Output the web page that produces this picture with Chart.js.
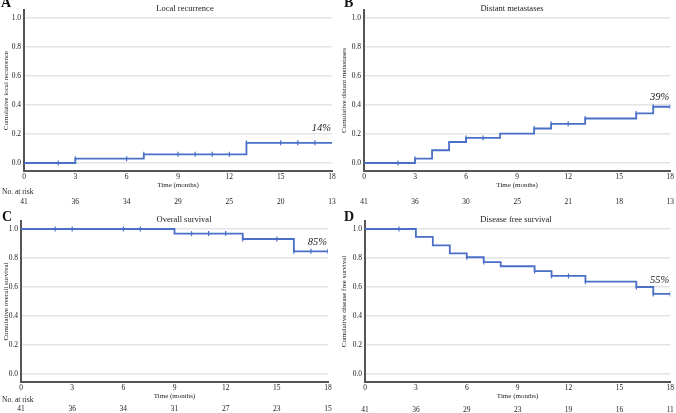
<!DOCTYPE html>
<html>
<head>
<meta charset="utf-8">
<script src="https://cdn.jsdelivr.net/npm/chart.js"></script>
<style>
  body { margin: 0; background: #fff; }
  .panel { position: absolute; }
</style>
</head>
<body>
<div class="panel" style="left:0;top:0"><canvas id="chartA" width="338" height="205"></canvas></div>
<div class="panel" style="left:338px;top:0"><canvas id="chartB" width="338" height="205"></canvas></div>
<div class="panel" style="left:0;top:205px"><canvas id="chartC" width="338" height="208"></canvas></div>
<div class="panel" style="left:338px;top:205px"><canvas id="chartD" width="338" height="208"></canvas></div>

<script>
  // shared axis ticks
  const months = [0, 3, 6, 9, 12, 15, 18];
  const yTicks = [0, 0.2, 0.4, 0.6, 0.8, 1.0];

  // A: local recurrence (cumulative)
  const localTimes = [0, 3, 7, 13, 18];
  const localValues = [0, 0.03, 0.06, 0.139, 0.139];
  const localCensored = [2, 3, 6, 7, 9, 10, 11, 12, 13, 15, 16, 17];
  const localAtRisk = [41, 36, 34, 29, 25, 20, 13];

  // B: distant metastases (cumulative)
  const distantTimes = [0, 3, 4, 5, 6, 8, 10, 11, 13, 16, 17, 18];
  const distantValues = [0, 0.03, 0.088, 0.145, 0.173, 0.203, 0.238, 0.27, 0.307, 0.342, 0.388, 0.388];
  const distantCensored = [2, 3, 6, 7, 10, 11, 12, 13, 16, 17, 18];
  const distantAtRisk = [41, 36, 30, 25, 21, 18, 13];

  // C: overall survival
  const osTimes = [0, 9, 13, 16, 18];
  const osValues = [1, 0.968, 0.931, 0.846, 0.846];
  const osCensored = [2, 3, 6, 7, 10, 11, 12, 13, 15, 16, 17, 18];
  const osAtRisk = [41, 36, 34, 31, 27, 23, 15];

  // D: disease free survival
  const dfsTimes = [0, 3, 4, 5, 6, 7, 8, 10, 11, 13, 16, 17, 18];
  const dfsValues = [1, 0.945, 0.887, 0.832, 0.805, 0.772, 0.743, 0.71, 0.676, 0.637, 0.6, 0.552, 0.552];
  const dfsCensored = [2, 6, 7, 10, 11, 12, 13, 16, 17, 18];
  const dfsAtRisk = [41, 36, 29, 23, 19, 16, 11];

  const lineColor = "#4a6fc6";
  const axisColor = "#555";
  const textColor = "#222";
  const serif = "'Liberation Serif', 'Times New Roman', serif";

  function stepValueAt(times, values, t) {
    let v = values[0];
    for (let i = 0; i < times.length; i++) {
      if (times[i] <= t) v = values[i];
    }
    return v;
  }

  // draws panel letter, title, percent label and numbers at risk
  const panelText = {
    id: "panelText",
    afterDraw(chart, args, o) {
      const ctx = chart.ctx;
      const xs = chart.scales.x;
      const ys = chart.scales.y;
      ctx.save();
      ctx.fillStyle = "#111";
      ctx.textBaseline = "middle";

      ctx.font = "bold 14px " + serif;
      ctx.textAlign = "left";
      ctx.fillText(o.letter, o.letterX, o.letterY);

      ctx.fillStyle = textColor;
      ctx.font = "8.5px " + serif;
      ctx.textAlign = "center";
      ctx.fillText(o.title, o.titleX, o.titleY);

      ctx.font = "italic 10.5px " + serif;
      ctx.textAlign = "right";
      ctx.fillText(o.pct, xs.getPixelForValue(18) - 1, ys.getPixelForValue(o.pctY));

      ctx.font = "7.5px " + serif;
      if (o.showNoAtRisk) {
        ctx.textAlign = "left";
        ctx.fillText("No. at risk", 2, o.noRiskY);
      }
      ctx.textAlign = "center";
      months.forEach((m, i) => {
        ctx.fillText(String(o.atRisk[i]), xs.getPixelForValue(m), o.riskY);
      });
      ctx.restore();
    },
  };

  function makePanel(id, p) {
    const canvas = document.getElementById(id);
    const W = canvas.width, H = canvas.height;
    const xAxisH = 18;
    const tickFont = { family: serif, size: 7.5 };
    const titleFont = { family: serif, size: 7 };

    new Chart(canvas, {
      type: "line",
      data: {
        datasets: [
          {
            data: p.times.map((t, i) => ({ x: t, y: p.values[i] })),
            stepped: "before",
            borderColor: lineColor,
            borderWidth: 1.8,
            pointRadius: 0,
            fill: false,
          },
          {
            data: p.censored.map((t) => ({ x: t, y: stepValueAt(p.times, p.values, t) })),
            showLine: false,
            pointStyle: "line",
            rotation: 90,
            pointRadius: 2.5,
            borderColor: lineColor,
            borderWidth: 1.2,
          },
        ],
      },
      options: {
        responsive: false,
        animation: false,
        devicePixelRatio: 1,
        layout: {
          padding: { left: 0, top: p.area.top, right: W - p.area.right, bottom: H - p.area.bottom - xAxisH },
        },
        plugins: {
          legend: { display: false },
          tooltip: { enabled: false },
          panelText: p.text,
        },
        scales: {
          x: {
            type: "linear",
            min: 0,
            max: 18,
            afterBuildTicks: (s) => { s.ticks = months.map((v) => ({ value: v })); },
            afterFit: (s) => { s.height = xAxisH; },
            grid: { display: false, drawTicks: false },
            border: { display: true, color: axisColor, width: 2 },
            ticks: { padding: 2, font: tickFont, color: textColor, maxRotation: 0 },
            title: { display: true, text: "Time (months)", padding: 0, font: titleFont, color: textColor },
          },
          y: {
            min: -0.055,
            max: 1.055,
            afterBuildTicks: (s) => { s.ticks = yTicks.map((v) => ({ value: v })); },
            afterFit: (s) => { s.width = p.area.left; },
            grid: { color: "#e4e4e4", lineWidth: 1.5, drawTicks: false },
            border: { display: true, color: axisColor, width: 2 },
            ticks: { padding: 3, font: tickFont, color: textColor, callback: (v) => v.toFixed(1) },
            title: { display: true, text: p.yTitle, padding: { top: 2 }, font: titleFont, color: textColor },
          },
        },
      },
      plugins: [panelText],
    });
  }

  makePanel("chartA", {
    times: localTimes, values: localValues, censored: localCensored,
    yTitle: "Cumulative local recurrence",
    area: { left: 24, top: 10, right: 332, bottom: 171 },
    text: { letter: "A", letterX: 1, letterY: 3, title: "Local recurrence", titleX: 185, titleY: 9,
            pct: "14%", pctY: 0.24, atRisk: localAtRisk, showNoAtRisk: true, noRiskY: 192, riskY: 202 },
  });

  makePanel("chartB", {
    times: distantTimes, values: distantValues, censored: distantCensored,
    yTitle: "Cumulative distant metastases",
    area: { left: 26, top: 10, right: 333, bottom: 171 },
    text: { letter: "B", letterX: 6, letterY: 3, title: "Distant metastases", titleX: 174, titleY: 9,
            pct: "39%", pctY: 0.455, atRisk: distantAtRisk, showNoAtRisk: false, noRiskY: 192, riskY: 202 },
  });

  makePanel("chartC", {
    times: osTimes, values: osValues, censored: osCensored,
    yTitle: "Cumulative overall survival",
    area: { left: 21, top: 16, right: 328, bottom: 177 },
    text: { letter: "C", letterX: 2, letterY: 12, title: "Overall survival", titleX: 184, titleY: 15,
            pct: "85%", pctY: 0.91, atRisk: osAtRisk, showNoAtRisk: true, noRiskY: 195, riskY: 204 },
  });

  makePanel("chartD", {
    times: dfsTimes, values: dfsValues, censored: dfsCensored,
    yTitle: "Cumulative disease free survival",
    area: { left: 27, top: 16, right: 334, bottom: 177 },
    text: { letter: "D", letterX: 6, letterY: 12, title: "Disease free survival", titleX: 178, titleY: 15,
            pct: "55%", pctY: 0.648, atRisk: dfsAtRisk, showNoAtRisk: false, noRiskY: 195, riskY: 205 },
  });
</script>
</body>
</html>
